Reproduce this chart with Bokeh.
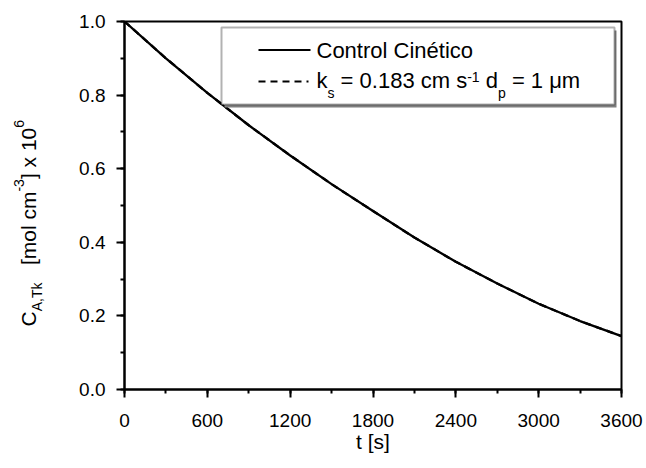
import math
from bokeh.plotting import figure
from bokeh.layouts import row
from bokeh.models import Label, BoxAnnotation, Arrow, SingleIntervalTicker, Range1d
from bokeh.embed import file_html
from bokeh.resources import INLINE

# ---------------- data ----------------
t_s = [0, 300, 600, 900, 1200, 1500, 1800, 2100, 2400, 2700, 3000, 3300, 3600]
c_kinetic = [1.000, 0.900, 0.806, 0.718, 0.636, 0.558, 0.485, 0.413, 0.347, 0.288, 0.233, 0.186, 0.145]
c_ks_183 = [1.000, 0.900, 0.806, 0.718, 0.636, 0.558, 0.485, 0.413, 0.347, 0.288, 0.233, 0.186, 0.145]
x_ticks = [0, 600, 1200, 1800, 2400, 3000, 3600]
y_ticks = [0.0, 0.2, 0.4, 0.6, 0.8, 1.0]
series_names = ["Control Cinético", "k_s = 0.183 cm s^-1 d_p = 1 μm"]

FONT = "Liberation Sans"
W, H = 646, 468
LW = 60
FL, FR, FT, FB = 124, 621, 21, 389
X0, X1, Y0, Y1 = 0, 3600, 0.0, 1.0
MID = 0.36   # distance (in em) from baseline to the "middle" anchor

p = figure(width=W - LW, height=H, output_backend="svg", toolbar_location=None,
           x_range=Range1d(X0, X1), y_range=Range1d(Y0, Y1),
           min_border_left=FL - LW, min_border_right=W - FR,
           min_border_top=FT, min_border_bottom=H - FB)
p.background_fill_color = "white"
p.border_fill_color = "white"
p.outline_line_color = "black"
p.outline_line_width = 2
p.xgrid.visible = False
p.ygrid.visible = False

p.xaxis.ticker = SingleIntervalTicker(interval=600, num_minor_ticks=2)
p.yaxis.ticker = SingleIntervalTicker(interval=0.2, num_minor_ticks=2)
p.xaxis.major_label_overrides = {v: str(v) for v in x_ticks}
p.yaxis.major_label_overrides = {v: f"{v:.1f}" for v in y_ticks}
for ax in (p.xaxis[0], p.yaxis[0]):
    ax.axis_line_width = 2
    ax.major_tick_line_width = 2
    ax.minor_tick_line_width = 2
    ax.major_tick_out = 8
    ax.major_tick_in = 0
    ax.minor_tick_out = 4
    ax.minor_tick_in = 0
    ax.major_label_text_font = FONT
    ax.major_label_text_font_size = "19px"
    ax.major_label_text_color = "black"
    ax.axis_line_color = "black"
    ax.major_tick_line_color = "black"
    ax.minor_tick_line_color = "black"
p.xaxis.major_label_standoff = 16
p.yaxis.major_label_standoff = 11
p.xaxis.axis_label = "t [s]"
p.xaxis.axis_label_text_font = FONT
p.xaxis.axis_label_text_font_size = "21px"
p.xaxis.axis_label_text_font_style = "normal"
p.xaxis.axis_label_text_color = "black"
p.xaxis.axis_label_standoff = 0

p.line(t_s, c_ks_183, line_color="black", line_width=2.3, line_dash="7 5")
p.line(t_s, c_kinetic, line_color="black", line_width=2.3)

def dx(px):
    return X0 + (px - FL) / (FR - FL) * (X1 - X0)

def dy(py):
    return Y0 + (FB - py) / (FB - FT) * (Y1 - Y0)

AW = {' ': 278, '.': 278, ',': 278, '-': 333, '=': 584, '[': 278, ']': 278,
      'A': 667, 'C': 722, 'T': 611, 'a': 556, 'c': 500, 'd': 556, 'e': 556,
      'é': 556, 'i': 222, 'k': 500, 'l': 222, 'm': 833, 'n': 556, 'o': 556,
      'p': 556, 'r': 333, 's': 500, 't': 278, 'x': 500, 'μ': 576}

def tw(s, size):
    return sum(AW.get(ch, 556) for ch in s) / 1000.0 * size

def split_spaces(txt):
    lead = len(txt) - len(txt.lstrip(' '))
    trail = len(txt) - len(txt.rstrip(' '))
    return lead, txt.strip(' '), trail

def hrun(fig, pieces, px, py):
    """pieces: (text, size, baseline offset in px, + = down); py = baseline (screen px)."""
    x = px
    for txt, size, off in pieces:
        lead, core, trail = split_spaces(txt)
        x += lead * 0.278 * size
        fig.add_layout(Label(x=dx(x), y=dy(py + off - MID * size), text=core,
                             text_font=FONT, text_font_size=f"{size}px",
                             text_baseline="middle", text_align="left",
                             text_color="black"))
        x += tw(core, size) + trail * 0.278 * size

# ---------------- legend ----------------
p.add_layout(BoxAnnotation(left=dx(224), right=dx(616), top=dy(30), bottom=dy(107),
                           fill_color="#7f7f7f", fill_alpha=1.0, line_alpha=0))
p.add_layout(BoxAnnotation(left=dx(221), right=dx(614), top=dy(27), bottom=dy(104),
                           fill_color="white", fill_alpha=1.0, line_color="black",
                           line_width=2))
p.add_layout(Arrow(x_start=dx(258), y_start=dy(49.5), x_end=dx(310), y_end=dy(49.5),
                   start=None, end=None, line_color="black", line_width=2))
p.add_layout(Arrow(x_start=dx(258), y_start=dy(81), x_end=dx(308), y_end=dy(81),
                   start=None, end=None, line_color="black", line_width=2,
                   line_dash="7 5"))
hrun(p, [(series_names[0], 22, 0)], 316, 58)
hrun(p, [("k", 22, 0), ("s", 14, 10), (" = 0.183 cm s", 22, 0), ("-1", 14, -6),
         (" d", 22, 0), ("p", 14, 10), (" = 1 ", 22, 0), ("μm", 22, 0)], 316, 88)

# ---------------- y axis title strip (frame is aligned with the main frame) ----------------
q = figure(width=LW, height=H, output_backend="svg", toolbar_location=None,
           x_range=Range1d(0, LW), y_range=Range1d(H - FB, H - FT),
           x_axis_location=None, y_axis_location=None,
           min_border_left=0, min_border_right=0,
           min_border_top=FT, min_border_bottom=H - FB)
q.outline_line_color = None
q.xgrid.visible = False
q.ygrid.visible = False
q.background_fill_color = "white"
q.border_fill_color = "white"

def vrun(fig, pieces, px, py):
    """rotated text reading upward; px = baseline x (screen), off: + = below baseline."""
    y = py
    for txt, size, off in pieces:
        lead, core, trail = split_spaces(txt)
        y -= lead * 0.278 * size
        fig.add_layout(Label(x=px + off - MID * size, y=H - y, text=core,
                             angle=math.pi / 2, text_font=FONT,
                             text_font_size=f"{size}px", text_baseline="middle",
                             text_align="left", text_color="black"))
        y -= tw(core, size) + trail * 0.278 * size

vrun(q, [("C", 21, 0), ("A,Tk", 14, 6), ("   [mol cm", 21, 0), ("-3", 14, -12),
         ("] x 10", 21, 0), ("6", 14, -12)], 36, 326)

layout = row(q, p, spacing=0)
open("out.html", "w").write(file_html(layout, INLINE))
